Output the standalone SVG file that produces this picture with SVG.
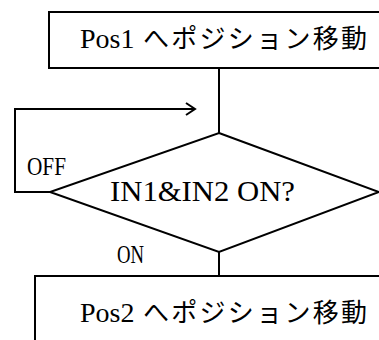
<svg xmlns="http://www.w3.org/2000/svg" width="379" height="340" viewBox="0 0 379 340">
<defs>
<style>
.s{fill:#fff;stroke:#000;stroke-width:2}
.l{fill:none;stroke:#000;stroke-width:2}
.t{font-family:"Liberation Serif","Noto Sans CJK JP",serif;fill:#000}
</style>
<marker id="a" markerWidth="12" markerHeight="14" refX="10" refY="7" orient="auto" markerUnits="userSpaceOnUse">
<path d="M1,1 L10,7 L1,13" fill="none" stroke="#000" stroke-width="2"/>
</marker>
</defs>
<rect width="379" height="340" fill="#fff"/>
<g id="connectors">
<line class="l" x1="219" y1="68" x2="219" y2="133"/>
<polyline class="l" points="50,192 15,192 15,109 195,109" marker-end="url(#a)"/>
<line class="l" x1="219" y1="252" x2="219" y2="276"/>
<text class="t" x="27" y="175" font-size="26" textLength="39" lengthAdjust="spacingAndGlyphs">OFF</text>
<text class="t" x="117" y="263" font-size="25" textLength="27" lengthAdjust="spacingAndGlyphs">ON</text>
</g>
<g id="pos1">
<rect class="s" x="49" y="12" width="360" height="56"/>
<text class="t" y="48" font-size="26"><tspan x="80" font-size="28">Pos1</tspan><tspan x="143" textLength="224" lengthAdjust="spacing">へポジション移動</tspan></text>
</g>
<g id="decision">
<polygon class="s" points="219,133 379,192 219,252 50,192"/>
<text class="t" x="110" y="201" font-size="30" textLength="185" lengthAdjust="spacingAndGlyphs">IN1&amp;IN2 ON?</text>
</g>
<g id="pos2">
<rect class="s" x="35" y="276" width="380" height="80"/>
<text class="t" y="322" font-size="26"><tspan x="80" font-size="28">Pos2</tspan><tspan x="143" textLength="224" lengthAdjust="spacing">へポジション移動</tspan></text>
</g>
</svg>
